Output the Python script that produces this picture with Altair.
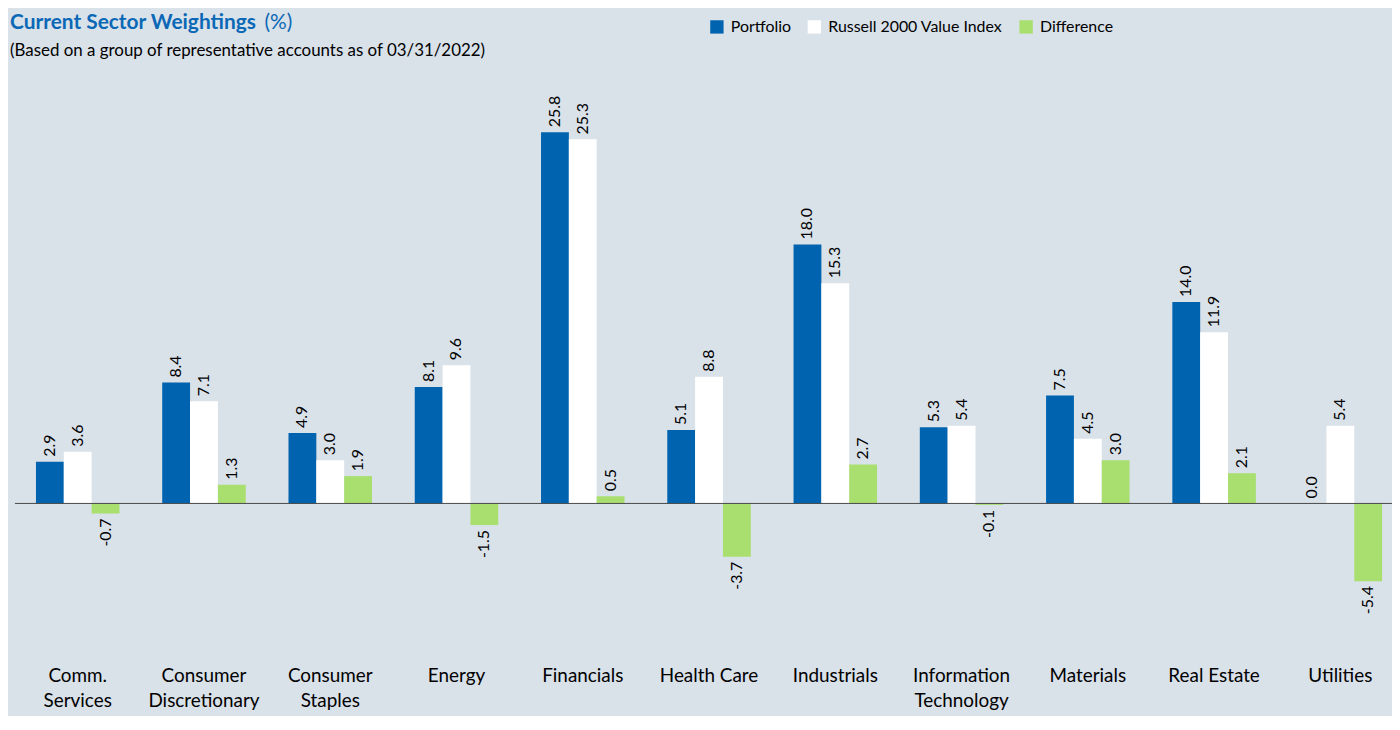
import altair as alt
import pandas as pd

sectors = ["Comm.|Services", "Consumer|Discretionary", "Consumer|Staples", "Energy",
           "Financials", "Health Care", "Industrials", "Information|Technology",
           "Materials", "Real Estate", "Utilities"]
portfolio = [2.9, 8.4, 4.9, 8.1, 25.8, 5.1, 18.0, 5.3, 7.5, 14.0, 0.0]
russell = [3.6, 7.1, 3.0, 9.6, 25.3, 8.8, 15.3, 5.4, 4.5, 11.9, 5.4]
difference = [-0.7, 1.3, 1.9, -1.5, 0.5, -3.7, 2.7, -0.1, 3.0, 2.1, -5.4]
series = ["Portfolio", "Russell 2000 Value Index", "Difference"]
colors = ["#0063AF", "#FFFFFF", "#A9DF6F"]

title_main = "Current Sector Weightings"
title_unit = "(%)"
subtitle = "(Based on a group of representative accounts as of 03/31/2022)"

FONT = "Lato"
BG = "#D9E1E9"

rows = []
for i, s in enumerate(sectors):
    for name, vals in zip(series, [portfolio, russell, difference]):
        v = vals[i]
        rows.append({"sector": s, "series": name, "value": v, "label": f"{v:.1f}"})
df = pd.DataFrame(rows)

x_enc = alt.X("sector:N", sort=sectors,
              scale=alt.Scale(paddingInner=0.3386, paddingOuter=0.1223, align=0.68),
              axis=alt.Axis(orient="bottom", title=None, domain=False, ticks=False,
                            labelAngle=0, labelFontSize=19, labelColor="#000000",
                            labelPadding=19, labelLineHeight=26, labelLimit=300,
                            labelFont=FONT,
                            labelExpr="split(datum.label, '|')"))
xo_enc = alt.XOffset("series:N", sort=series, scale=alt.Scale(paddingInner=0))
y_scale = alt.Scale(domain=[-10, 28], nice=False, zero=False)

base = alt.Chart(df)

bars = base.mark_bar(size=28).encode(
    x=x_enc,
    xOffset=xo_enc,
    y=alt.Y("value:Q", scale=y_scale, axis=None),
    y2=alt.datum(0),
    color=alt.Color("series:N", sort=series,
                    scale=alt.Scale(domain=series, range=colors),
                    legend=alt.Legend(orient="none", legendX=698, legendY=-82,
                                      direction="horizontal", columns=3, title=None,
                                      symbolType="square", symbolSize=180,
                                      symbolStrokeWidth=0, labelFontSize=16,
                                      labelFont=FONT, labelColor="#000000",
                                      labelLimit=400,
                                      labelOffset=6, columnPadding=15)),
)

pos_labels = base.transform_filter("datum.value >= 0").mark_text(
    angle=270, align="left", baseline="middle", dx=5, fontSize=16, font=FONT,
    color="#000000"
).encode(
    x=x_enc, xOffset=xo_enc,
    y=alt.Y("value:Q", scale=y_scale, axis=None),
    text="label:N",
)

neg_labels = base.transform_filter("datum.value < 0").mark_text(
    angle=270, align="right", baseline="middle", dx=-5, fontSize=16, font=FONT,
    color="#000000"
).encode(
    x=x_enc, xOffset=xo_enc,
    y=alt.Y("value:Q", scale=y_scale, axis=None),
    text="label:N",
)

zero_rule = alt.Chart(pd.DataFrame({"z": [0]})).mark_rule(
    color="#4A4A4A", strokeWidth=1
).encode(y=alt.Y("z:Q", scale=y_scale, axis=None))

t1 = alt.Chart(pd.DataFrame({"t": [title_main]})).mark_text(
    align="left", baseline="alphabetic", fontSize=21, fontWeight="bold",
    font=FONT, color="#0B68B6"
).encode(text="t:N", x=alt.value(-5), y=alt.value(-72))

t2 = alt.Chart(pd.DataFrame({"t": [title_unit]})).mark_text(
    align="left", baseline="alphabetic", fontSize=21, font=FONT, color="#0B68B6"
).encode(text="t:N", x=alt.value(251), y=alt.value(-72))

t3 = alt.Chart(pd.DataFrame({"t": [subtitle]})).mark_text(
    align="left", baseline="alphabetic", fontSize=17, font=FONT, color="#000000"
).encode(text="t:N", x=alt.value(-5), y=alt.value(-45))

chart = alt.layer(bars, zero_rule, pos_labels, neg_labels, t1, t2, t3).properties(
    width=1385, height=550,
    padding={"left": 7, "top": 91, "right": 0, "bottom": 67},
    autosize=alt.AutoSizeParams(type="none"),
    background=BG,
).configure_view(stroke=None)

chart.save("out.html", embed_options={"renderer": "svg", "actions": False})
